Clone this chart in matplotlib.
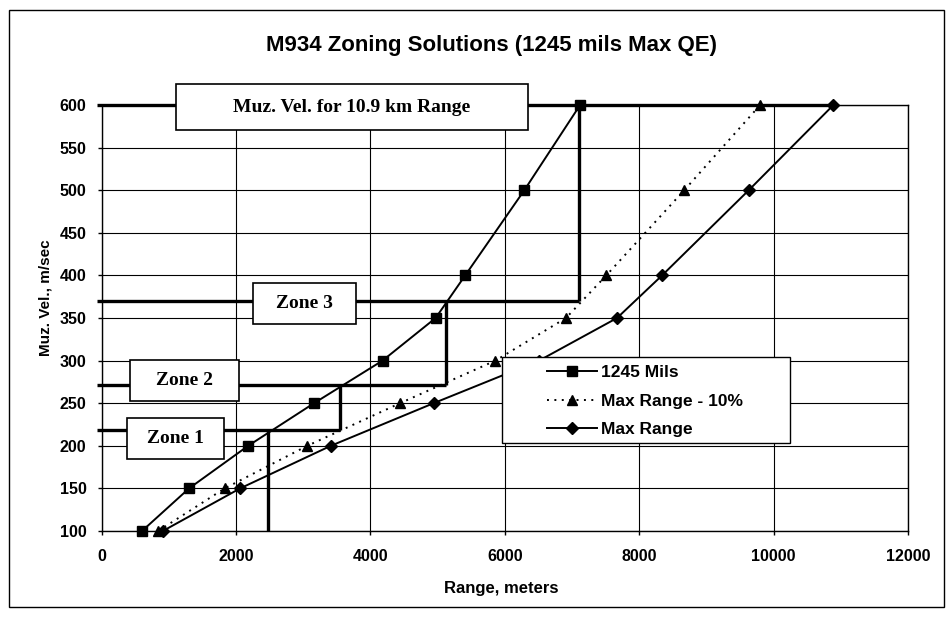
import matplotlib
matplotlib.use("Agg")
import matplotlib.pyplot as plt
from matplotlib.patches import Rectangle

# muzzle velocity levels (m/s) shared by all three series
velocity = [100, 150, 200, 250, 300, 350, 400, 500, 600]

# range (m) at each velocity
range_1245_mils = [600, 1300, 2180, 3160, 4180, 4970, 5410, 6290, 7120]
range_max_minus10 = [840, 1830, 3060, 4440, 5860, 6910, 7510, 8670, 9800]
range_max = [910, 2060, 3410, 4940, 6510, 7670, 8340, 9630, 10890]

# zone break-points: velocity of each zone and the range where its step rises
zone_vel = [219, 271, 370, 600]
zone_step_range = [2480, 3550, 5130, 7110]
zone_labels = ["Zone 1", "Zone 2", "Zone 3", "Muz. Vel. for 10.9 km Range"]

W, H = 948, 620
fig = plt.figure(figsize=(W / 100, H / 100), dpi=100)
sans = "Liberation Sans"
serif = "Liberation Serif"

# axes placed from pixel positions of the plot area
L, R, T, B = 101.7, 908.0, 105.0, 531.0
ax = fig.add_axes([L / W, 1 - B / H, (R - L) / W, (B - T) / H])
ax.set_xlim(0, 12000)
ax.set_ylim(100, 600)
ax.set_xticks(range(0, 12001, 2000))
ax.set_yticks(range(100, 601, 50))
ax.grid(True, color="black", lw=0.8)
ax.set_axisbelow(True)
for s in ax.spines.values():
    s.set_color("black")
    s.set_linewidth(1.0)
ax.tick_params(direction="out", length=3, width=1, colors="black")
ax.tick_params(axis="x", pad=10)
ax.tick_params(axis="y", pad=8)
for lab in ax.get_xticklabels() + ax.get_yticklabels():
    lab.set_fontfamily(sans)
    lab.set_fontweight("bold")
    lab.set_fontsize(11.5)

# zone staircase (thick lines)
zlw = 2.4
prev_v = velocity[0]
for i, (v, x) in enumerate(zip(zone_vel, zone_step_range)):
    ax.plot([x, x], [prev_v, v], color="black", lw=zlw, zorder=3, solid_capstyle="butt")
    x_end = zone_step_range[i + 1] if i + 1 < len(zone_step_range) else range_max[-1]
    ax.plot([-70, x_end], [v, v], color="black", lw=zlw, zorder=3, clip_on=False,
            solid_capstyle="butt")
    prev_v = v

# data series
ax.plot(range_1245_mils, velocity, color="black", lw=1.4, marker="s", ms=7,
        label="1245 Mils", zorder=4, clip_on=False)
ax.plot(range_max_minus10, velocity, color="black", lw=1.4, ls=(0, (1, 2.8)),
        marker="^", ms=7.5, label="Max Range - 10%", zorder=4, clip_on=False)
ax.plot(range_max, velocity, color="black", lw=1.4, marker="D", ms=6,
        label="Max Range", zorder=4, clip_on=False)

# label boxes (axes fraction: x0, x1, y0, y1)
boxes = [
    (0.031, 0.1517, 0.1683, 0.266),
    (0.0351, 0.1707, 0.3059, 0.4014),
    (0.188, 0.315, 0.486, 0.5815),
    (0.0921, 0.5287, 0.9413, 1.0493),
]
for (x0, x1, y0, y1), text in zip(boxes, zone_labels):
    ax.add_patch(Rectangle((x0, y0), x1 - x0, y1 - y0, transform=ax.transAxes,
                           facecolor="white", edgecolor="black", lw=1.2,
                           zorder=5, clip_on=False))
    ax.text((x0 + x1) / 2, (y0 + y1) / 2, text, transform=ax.transAxes,
            ha="center", va="center", family=serif, weight="bold",
            fontsize=14, zorder=6, clip_on=False)

# legend with its own frame
ax.add_patch(Rectangle((0.496, 0.2059), 0.8537 - 0.496, 0.4077 - 0.2059,
                       transform=ax.transAxes, facecolor="white",
                       edgecolor="black", lw=1.0, zorder=5))
leg = ax.legend(loc="upper left", bbox_to_anchor=(0.5523, 0.389), frameon=False,
                borderaxespad=0, borderpad=0, handlelength=2.87,
                handletextpad=0.25, labelspacing=0.75,
                prop={"family": sans, "weight": "bold", "size": 12.5})
leg.set_zorder(6)

fig.text(492 / W, 1 - 46 / H, "M934 Zoning Solutions (1245 mils Max QE)",
         ha="center", va="center", family=sans, weight="bold", fontsize=16)
fig.text(501 / W, 1 - 588 / H, "Range, meters", ha="center", va="center",
         family=sans, weight="bold", fontsize=12)
fig.text(46 / W, 1 - 298 / H, "Muz. Vel., m/sec", ha="center", va="center",
         rotation=90, family=sans, weight="bold", fontsize=11)

# outer chart border
fig.patches.append(Rectangle((9 / W, 1 - 607 / H), 935 / W, 597 / H,
                             transform=fig.transFigure, fill=False,
                             edgecolor="black", lw=1.0))

fig.savefig("out.png", dpi=100)
